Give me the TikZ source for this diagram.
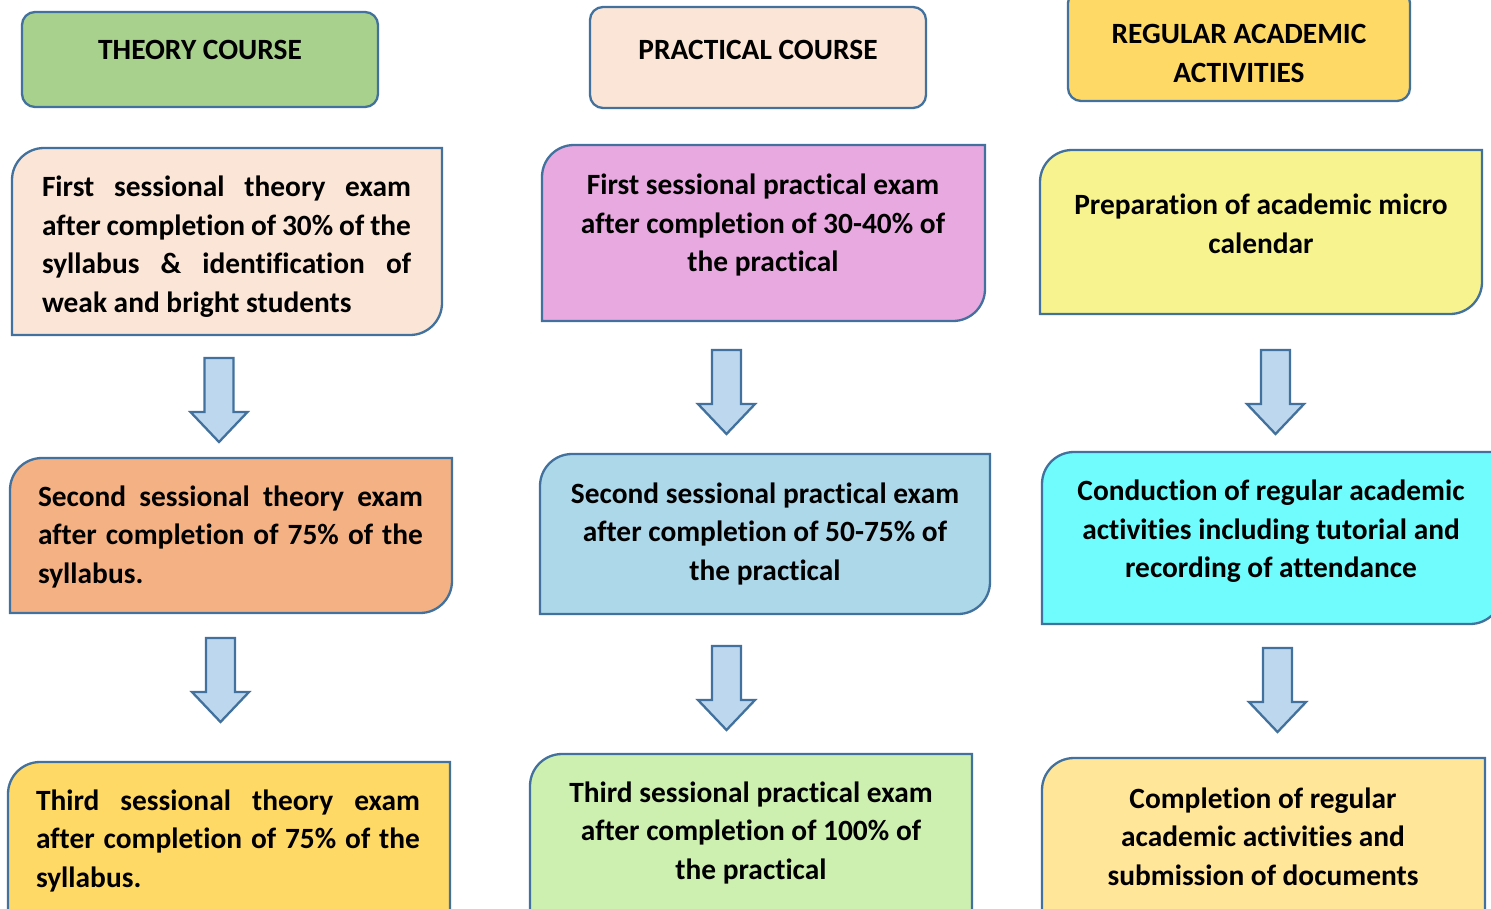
\documentclass[tikz,border=0pt]{standalone}
\usepackage{fontspec}
\setmainfont{Carlito}[Ligatures=NoCommon]
\definecolor{edge}{HTML}{41719C}
\definecolor{hgreen}{HTML}{A9D18E}
\definecolor{peach}{HTML}{FBE5D6}
\definecolor{gold}{HTML}{FFD966}
\definecolor{orng}{HTML}{F4B183}
\definecolor{pink}{HTML}{E8A9E0}
\definecolor{lblue}{HTML}{ADD8EA}
\definecolor{lgreen}{HTML}{CDEFB0}
\definecolor{lyellow}{HTML}{F7F48F}
\definecolor{cyanb}{HTML}{70FCFC}
\definecolor{lgold}{HTML}{FFE699}
\definecolor{arrowfill}{HTML}{BDD7EE}
\newcommand\cbox[6]{%
  \draw[boxline,fill=#5] (#1,-#4) -- (#1,{-#2-#6}) arc[start angle=180,end angle=90,radius=#6pt]
    -- (#3,-#2) -- (#3,{-#4+#6}) arc[start angle=0,end angle=-90,radius=#6pt] -- cycle;}
\newcommand\hdrbox[5]{%
  \draw[boxline,fill=#5,rounded corners=13pt] (#1,-#2) rectangle (#3,-#4);}
\newcommand\darrow[2]{%
  \draw[blockarrow] ({#1-14.5},-#2) -- ({#1+14.5},-#2) -- ({#1+14.5},{-#2-54}) -- ({#1+28.5},{-#2-54})
    -- (#1,{-#2-84}) -- ({#1-28.5},{-#2-54}) -- ({#1-14.5},{-#2-54}) -- cycle;}
\newcommand\jl[2]{\makebox[#1pt][s]{#2}}
\tikzset{
  boxline/.style={draw=edge,line width=2.3pt},
  blockarrow/.style={draw=edge,fill=arrowfill,line width=2.3pt,line join=miter},
  txt/.style={inner sep=0pt,yshift=-1.5pt,font=\fontsize{29.4}{38.5}\selectfont\bfseries,align=center},
  jtxt/.style={inner sep=0pt,yshift=-1.5pt,font=\fontsize{29.4}{38.5}\selectfont\bfseries,align=left},
}
\begin{document}
\begin{tikzpicture}[x=1pt,y=1pt]
\useasboundingbox (0,0) rectangle (1491,-908);
\clip (0,0) rectangle (1491,-908);
% headers
\hdrbox{22}{12}{378}{107}{hgreen}
\hdrbox{590}{7}{926}{108}{peach}
\hdrbox{1068}{-10}{1410}{101}{gold}
\node[txt] (h1) at (200,-48) {THEORY COURSE};
\node[txt] (h2) at (758,-48) {PRACTICAL COURSE};
\node[txt] (h3) at (1239,-52) {REGULAR ACADEMIC\\ACTIVITIES};
% row 1
\cbox{12}{148}{442}{335}{peach}{32}
\cbox{542}{145}{985}{321}{pink}{32}
\cbox{1040}{150}{1482}{314}{lyellow}{32}
\node[jtxt] (t1) at (226.5,-245) {\jl{369}{First sessional theory exam}\\\jl{369}{after completion of 30\% of the}\\\jl{369}{syllabus \& identification of}\\weak and bright students};
\node[txt] (p1) at (763,-223.5) {First sessional practical exam\\after completion of 30-40\% of\\the practical};
\node[txt] (r1) at (1261,-222.5) {Preparation of academic micro\\calendar};
% arrows 1
\darrow{219}{358}
\darrow{726.5}{350}
\darrow{1275.5}{350}
% row 2
\cbox{10}{458}{452}{613}{orng}{32}
\cbox{540}{454}{990}{614}{lblue}{32}
\cbox{1042}{452}{1502}{624}{cyanb}{32}
\node[jtxt] (t2) at (230.5,-535) {\jl{385}{Second sessional theory exam}\\\jl{385}{after completion of 75\% of the}\\syllabus.};
\node[txt] (p2) at (765,-532) {Second sessional practical exam\\after completion of 50-75\% of\\the practical};
\node[txt] (r2) at (1271,-530) {Conduction of regular academic\\activities including tutorial and\\recording of attendance};
% arrows 2
\darrow{220.5}{638}
\darrow{726.5}{646}
\darrow{1277.5}{648}
% row 3
\cbox{8}{762}{450}{950}{gold}{32}
\cbox{530}{754}{972}{950}{lgreen}{32}
\cbox{1042}{758}{1485}{950}{lgold}{32}
\node[jtxt] (t3) at (228,-839) {\jl{384}{Third sessional theory exam}\\\jl{384}{after completion of 75\% of the}\\syllabus.};
\node[txt] (p3) at (751,-831) {Third sessional practical exam\\after completion of 100\% of\\the practical};
\node[txt] (r3) at (1263,-835) {Completion of regular\\academic activities and\\submission of documents};
\end{tikzpicture}
\end{document}
